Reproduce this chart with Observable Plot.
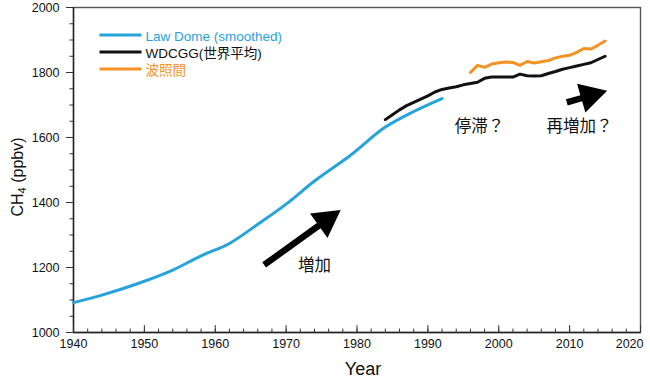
<!DOCTYPE html>
<html><head><meta charset="utf-8">
<script src="https://cdn.jsdelivr.net/npm/d3@7"></script>
<script src="https://cdn.jsdelivr.net/npm/@observablehq/plot@0.6"></script>
<style>body{margin:0;background:#fff}</style>
</head><body><div id="chart"></div>
<script>
// ---- data ----
const lawDomeYears  = [1940, 1944, 1949, 1954, 1958, 1962, 1966, 1970, 1974, 1979, 1984, 1988, 1992];
const lawDomeValues = [1092, 1115, 1150, 1192, 1236, 1274, 1333, 1395, 1466, 1544, 1632, 1680, 1720];

const wdcggYears  = [1984,1985,1986,1987,1988,1989,1990,1991,1992,1993,1994,1995,1996,1997,1998,1999,2000,2001,2002,2003,2004,2005,2006,2007,2008,2009,2010,2011,2012,2013,2014,2015];
const wdcggValues = [1655,1670,1685,1698,1708,1718,1728,1740,1748,1752,1756,1762,1766,1770,1782,1786,1786,1786,1786,1795,1790,1789,1790,1797,1803,1810,1815,1820,1825,1830,1840,1850];

const haterumaYears  = [1996,1997,1998,1999,2000,2001,2002,2003,2004,2005,2006,2007,2008,2009,2010,2011,2012,2013,2014,2015];
const haterumaValues = [1800,1822,1816,1826,1830,1832,1831,1822,1834,1829,1833,1837,1845,1850,1853,1862,1874,1872,1884,1897];

const seriesNames  = ["Law Dome (smoothed)", "WDCGG(世界平均)", "波照間"];
const seriesColors = ["#27a3dc", "#111111", "#f39325"];

const xMajorTicks = d3.range(1940, 2021, 10);
const xMinorTicks = d3.range(1940, 2021, 2);
const yMajorTicks = d3.range(1000, 2001, 200);
const yMinorTicks = d3.range(1000, 2001, 50);

// annotations (data coordinates)
const noteTexts = ["増加", "停滞？", "再増加？"];
const noteYears = [1974.0, 1997.3, 2011.4];
const noteVals  = [1205, 1633, 1633];
const arrowFromYears = [1966.9, 2009.6];
const arrowFromVals  = [1208, 1708];
const arrowToYears   = [1977.7, 2015.3];
const arrowToVals    = [1377, 1744];

// ---- build ----
const toRows = (xs, ys) => xs.map((x, i) => ({year: x, value: ys[i]}));
const lawDome = toRows(lawDomeYears, lawDomeValues);
const wdcgg = toRows(wdcggYears, wdcggValues);
const hateruma = toRows(haterumaYears, haterumaValues);
const notes = noteTexts.map((t, i) => ({text: t, year: noteYears[i], value: noteVals[i]}));

const latin = "'Liberation Sans', Arial, 'Noto Sans CJK JP', sans-serif";
const tickShape = {draw(ctx, l) { ctx.moveTo(0, 0); ctx.lineTo(0, -l); }};

function arrowShape(headLen, headHalf, shaftHalf) {
  return {draw(ctx, l) {
    const b = l - headLen;
    ctx.moveTo(-shaftHalf, 0);
    ctx.lineTo(-shaftHalf, -b);
    ctx.lineTo(-headHalf, -b);
    ctx.lineTo(0, -l);
    ctx.lineTo(headHalf, -b);
    ctx.lineTo(shaftHalf, -b);
    ctx.lineTo(shaftHalf, 0);
    ctx.closePath();
  }};
}

function build(extra) {
  const legendMarks = [];
  seriesNames.forEach((name, i) => {
    legendMarks.push(Plot.vector([0], {frameAnchor: "top-left", dx: 26, dy: 27.5 + 17 * i, length: 42, rotate: 90, anchor: "start", shape: tickShape, stroke: seriesColors[i], strokeWidth: 3, strokeLinecap: "butt"}));
    legendMarks.push(Plot.text([name], {frameAnchor: "top-left", dx: 72, dy: 29 + 17 * i, lineAnchor: "middle", text: d => d, textAnchor: "start", fill: seriesColors[i], fontSize: 13.5, fontFamily: latin}));
  });
  return Plot.plot({
    width: 650, height: 378,
    marginLeft: 73, marginRight: 10, marginTop: 7, marginBottom: 46,
    style: {fontFamily: latin, fontSize: "12px", color: "#111", background: "#fff", overflow: "visible"},
    x: {domain: [1940, 2020]},
    y: {domain: [1000, 2000]},
    marks: [
      Plot.frame({stroke: "#555", strokeWidth: 1.4}),
      Plot.ruleX([1940], {stroke: "#222", strokeWidth: 1.4}),
      Plot.ruleY([1000], {stroke: "#222", strokeWidth: 1.4}),
      Plot.axisY({ticks: yMinorTicks, tickSize: 3.5, tickFormat: () => "", label: null, stroke: "#333"}),
      Plot.axisY({ticks: yMajorTicks, tickSize: 7, tickPadding: 7, tickFormat: d => `${d}`, label: null, fontSize: 12.5, stroke: "#333"}),
      Plot.axisX({ticks: xMajorTicks.filter(d => d < 2020), tickSize: 0, tickPadding: 7, tickFormat: d => `${d}`, label: null, fontSize: 12.5}),
      Plot.text([2020], {x: d => d, frameAnchor: "bottom", dx: 3, dy: 7, lineAnchor: "top", textAnchor: "end", text: d => `${d}`, fontSize: 12.5}),
      Plot.vector(xMinorTicks, {x: d => d, frameAnchor: "bottom", length: 3.5, anchor: "start", shape: tickShape, stroke: "#333", strokeWidth: 1}),
      Plot.vector(xMajorTicks, {x: d => d, frameAnchor: "bottom", length: 7, anchor: "start", shape: tickShape, stroke: "#333", strokeWidth: 1}),
      Plot.line(lawDome, {x: "year", y: "value", stroke: seriesColors[0], strokeWidth: 3, curve: "monotone-x"}),
      Plot.line(wdcgg, {x: "year", y: "value", stroke: seriesColors[1], strokeWidth: 3, strokeLinejoin: "round"}),
      Plot.line(hateruma, {x: "year", y: "value", stroke: seriesColors[2], strokeWidth: 3, strokeLinejoin: "round"}),
      ...legendMarks,
      Plot.text(notes, {x: "year", y: "value", text: "text", fontSize: 16.5, fill: "#111", fontFamily: "'Noto Sans CJK JP', sans-serif"}),
      Plot.text(["Year"], {frameAnchor: "bottom", dx: 6, dy: 42, lineAnchor: "bottom", text: d => d, fontSize: 18, fill: "#111"}),
      ...extra
    ]
  });
}

const probe = build([]);
const sx = probe.scale("x"), sy = probe.scale("y");
const arrowMarks = arrowFromYears.map((fy, i) => {
  const x1 = sx.apply(fy), y1 = sy.apply(arrowFromVals[i]);
  const x2 = sx.apply(arrowToYears[i]), y2 = sy.apply(arrowToVals[i]);
  const len = Math.hypot(x2 - x1, y2 - y1);
  const rot = Math.atan2(x2 - x1, -(y2 - y1)) * 180 / Math.PI;
  return Plot.vector([{year: fy, value: arrowFromVals[i]}], {x: "year", y: "value", length: len, rotate: rot, anchor: "start", shape: arrowShape(27, 15, 3.2), fill: "#000", stroke: "none"});
});

const chart = build(arrowMarks);
// y axis title with subscript
const svg = d3.select(chart);
const t = svg.append("text")
  .attr("transform", "translate(19,177) rotate(-90)")
  .attr("text-anchor", "middle")
  .attr("dominant-baseline", "middle")
  .attr("font-family", latin)
  .attr("font-size", 16)
  .attr("fill", "#111");
t.append("tspan").text("CH");
t.append("tspan").attr("font-size", 11).attr("dy", 3.5).text("4");
t.append("tspan").attr("dy", -3.5).text(" (ppbv)");
document.getElementById("chart").appendChild(chart);
</script>
</body></html>
